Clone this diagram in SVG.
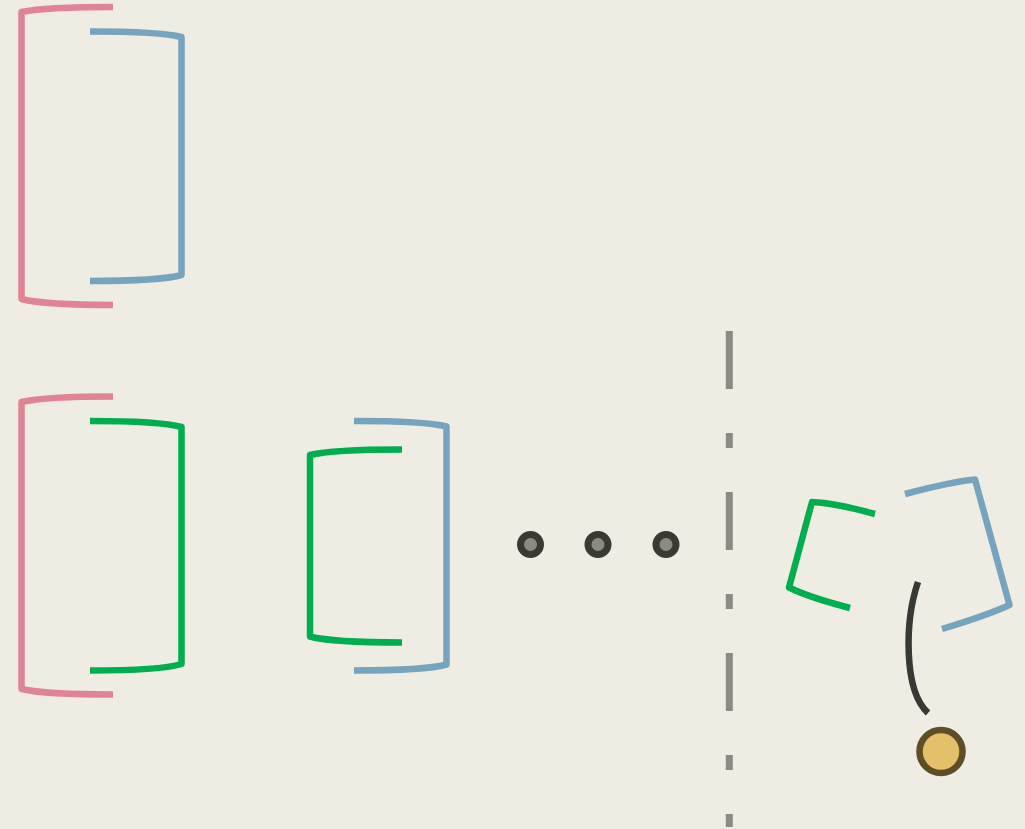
<svg xmlns="http://www.w3.org/2000/svg" width="1025" height="829" viewBox="0 0 1025 829">
<style>
.br{fill:none;stroke-width:6.5;stroke-linejoin:round;stroke-linecap:butt}
.pink{stroke:#e08394}
.blue{stroke:#76a3bd}
.green{stroke:#00ad4f}
.dot{fill:#8b8b84;stroke:#3a3a35;stroke-width:7}
</style>
<rect width="1025" height="829" fill="#eeece3"/>
<g id="top-pair">
<path class="br pink" d="M113,7 Q45,7 21.5,12 V299 Q45,305 113,305"/>
<path class="br blue" d="M90,31.5 Q160,31.5 181.5,37 V275 Q160,281 90,281"/>
</g>
<g id="pair-2">
<path class="br pink" d="M113,396.5 Q45,396.5 21.5,402 V689 Q45,694.5 113,694.5"/>
<path class="br green" d="M90,421 Q160,421 181.5,427 V664 Q160,670.5 90,670.5"/>
</g>
<g id="pair-3">
<path class="br blue" d="M354,421 Q425,421 446.5,426.5 V664.5 Q425,670.5 354,670.5"/>
<path class="br green" d="M402,449.5 Q332,449.5 310,455 V636.5 Q332,642.5 402,642.5"/>
</g>
<g id="ellipsis">
<circle class="dot" cx="530.5" cy="544.5" r="10"/>
<circle class="dot" cx="598" cy="544.5" r="10"/>
<circle class="dot" cx="666" cy="544.5" r="10"/>
</g>
<g id="divider">
<line x1="729.3" y1="331" x2="729.3" y2="827" stroke="#8b8b84" stroke-width="7" stroke-dasharray="58 44 15 44"/>
</g>
<g id="rotated-pair">
<path class="br green" d="M875,514 Q835,503 812,502 L789,587.5 Q808,597 850,608"/>
<path class="br blue" d="M905,494 Q950,482 975,479.5 L1009.5,605 Q988,615 942,629"/>
</g>
<g id="connectors">
<path d="M918,582 C905,620 903,690 928,713" fill="none" stroke="#383834" stroke-width="6.5"/>
</g>
<g id="end-node">
<circle cx="941" cy="751.5" r="21.5" fill="#e4c06a" stroke="#5e4d27" stroke-width="6.5"/>
</g>
</svg>
